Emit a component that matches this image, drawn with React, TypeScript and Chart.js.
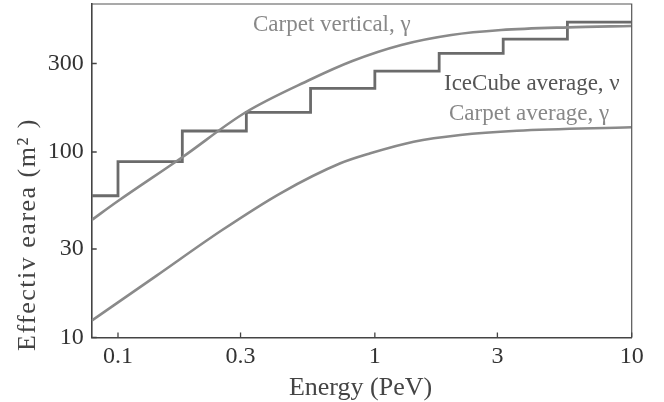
import React, { useEffect, useRef } from "react";
import { Chart, registerables } from "chart.js";

Chart.register(...registerables);

// ---- data ----
const energyTicks = [0.1, 0.3, 1, 3, 10];
const energyTickLabels = ["0.1", "0.3", "1", "3", "10"];
const areaTicks = [10, 30, 100, 300];
const areaTickLabels = ["10", "30", "100", "300"];

const carpetVerticalE = [0.079, 0.1, 0.1785, 0.311, 0.556, 0.8175, 1.268, 1.984, 3.103, 5.655, 10];
const carpetVerticalA = [43.0, 54.4, 94.0, 162.3, 244.4, 309.4, 377.5, 427.3, 454.6, 470.1, 477.8];

const carpetAverageE = [0.079, 0.1414, 0.2545, 0.4291, 0.7342, 0.9605, 1.416, 2.15, 3.572, 10];
const carpetAverageA = [12.32, 21.56, 37.97, 59.9, 86.9, 98.4, 113.6, 123.5, 130.2, 135.9];

const iceCubeE = [0.079, 0.1, 0.178, 0.316, 0.562, 1, 1.78, 3.16, 5.62, 10];
const iceCubeA = [58.1, 88.7, 129.8, 163.6, 220.5, 273, 340, 406, 502, 502];

const xTitle = "Energy (PeV)";
const yTitle = "Effectiv earea (m² )";
const labelVertical = "Carpet vertical, γ";
const labelIceCube = "IceCube average, ν";
const labelAverage = "Carpet average, γ";

const xMin = 0.079;
const xMax = 10;
const yMin = 10;
const yMax = 628;

const toPoints = (xs: number[], ys: number[]) => xs.map((x, i) => ({ x, y: ys[i] }));

const SERIF = "'Liberation Serif', 'Times New Roman', serif";

const decorPlugin = {
  id: "decor",
  afterDraw(chart: any) {
    const { ctx, chartArea, scales } = chart;
    const { left, right, top, bottom } = chartArea;
    const xs = scales.x;
    const ys = scales.y;
    ctx.save();
    // frame top & right
    ctx.strokeStyle = "#555";
    ctx.lineWidth = 1.2;
    ctx.beginPath();
    ctx.moveTo(left, top);
    ctx.lineTo(right, top);
    ctx.lineTo(right, bottom);
    ctx.stroke();
    // inner ticks
    ctx.strokeStyle = "#444";
    ctx.lineWidth = 1.3;
    ctx.beginPath();
    energyTicks.forEach((v) => {
      const px = xs.getPixelForValue(v);
      ctx.moveTo(px, bottom);
      ctx.lineTo(px, bottom - 5);
    });
    areaTicks.forEach((v) => {
      const py = ys.getPixelForValue(v);
      ctx.moveTo(left, py);
      ctx.lineTo(left + 5, py);
    });
    ctx.stroke();

    // series labels
    ctx.textBaseline = "alphabetic";
    ctx.textAlign = "left";
    ctx.font = `23px ${SERIF}`;
    ctx.fillStyle = "#888";
    ctx.fillText(labelVertical, 253, 31);
    ctx.fillStyle = "#555";
    ctx.fillText(labelIceCube, 444, 90);
    ctx.fillStyle = "#888";
    ctx.fillText(labelAverage, 449, 120);

    // axis titles
    ctx.fillStyle = "#444";
    ctx.font = `26px ${SERIF}`;
    ctx.textAlign = "center";
    ctx.fillText(xTitle, 360.5, 395);

    ctx.save();
    ctx.translate(35, 234.5);
    ctx.rotate(-Math.PI / 2);
    ctx.font = `26px ${SERIF}`;
    (ctx as any).letterSpacing = "1.5px";
    ctx.textAlign = "center";
    ctx.fillText(yTitle, 0, 0);
    ctx.restore();

    ctx.restore();
  },
};

const zeroPad = (s: any) => {
  s.paddingTop = 0;
  s.paddingBottom = 0;
  s.paddingLeft = 0;
  s.paddingRight = 0;
};

export default function App() {
  const ref = useRef<HTMLCanvasElement | null>(null);

  useEffect(() => {
    if (!ref.current) return;
    const chart = new Chart(ref.current, {
      type: "line",
      data: {
        datasets: [
          {
            label: labelAverage,
            data: toPoints(carpetAverageE, carpetAverageA),
            borderColor: "#8a8a8a",
            borderWidth: 2.6,
            pointRadius: 0,
            cubicInterpolationMode: "monotone",
          },
          {
            label: labelVertical,
            data: toPoints(carpetVerticalE, carpetVerticalA),
            borderColor: "#8a8a8a",
            borderWidth: 2.6,
            pointRadius: 0,
            cubicInterpolationMode: "monotone",
          },
          {
            label: labelIceCube,
            data: toPoints(iceCubeE, iceCubeA),
            borderColor: "#6b6b6b",
            borderWidth: 2.8,
            pointRadius: 0,
            stepped: "before",
            borderJoinStyle: "miter",
          },
        ],
      },
      options: {
        animation: false,
        responsive: false,
        devicePixelRatio: 1,
        events: [],
        layout: { padding: { top: 4, right: 32.3, left: 0, bottom: 0 } },
        plugins: { legend: { display: false }, tooltip: { enabled: false }, title: { display: false } },
        scales: {
          x: {
            type: "logarithmic",
            min: xMin,
            max: xMax,
            bounds: "data",
            afterBuildTicks: (s: any) => {
              s.ticks = energyTicks.map((v) => ({ value: v }));
            },
            afterFit: (s: any) => {
              s.height = 64.5;
              zeroPad(s);
            },
            ticks: {
              autoSkip: false,
              maxRotation: 0,
              padding: 5,
              color: "#333",
              font: { family: SERIF, size: 24 },
              callback: (v: any) => {
                const i = energyTicks.indexOf(Number(v));
                return i >= 0 ? energyTickLabels[i] : "";
              },
            },
            grid: { display: true, drawOnChartArea: false, drawTicks: false },
            border: { display: true, color: "#444", width: 1.6 },
          },
          y: {
            type: "logarithmic",
            min: yMin,
            max: yMax,
            bounds: "data",
            afterBuildTicks: (s: any) => {
              s.ticks = areaTicks.map((v) => ({ value: v }));
            },
            afterFit: (s: any) => {
              s.width = 91.7;
              zeroPad(s);
            },
            ticks: {
              autoSkip: false,
              padding: 8,
              color: "#333",
              font: { family: SERIF, size: 24 },
              callback: (v: any) => {
                const i = areaTicks.indexOf(Number(v));
                return i >= 0 ? areaTickLabels[i] : "";
              },
            },
            grid: { display: true, drawOnChartArea: false, drawTicks: false },
            border: { display: true, color: "#444", width: 1.6 },
          },
        },
      },
      plugins: [decorPlugin],
    } as any);
    return () => chart.destroy();
  }, []);

  return (
    <div style={{ position: "fixed", left: 0, top: 0, width: 664, height: 402, background: "#fff" }}>
      <canvas ref={ref} width={664} height={402} style={{ display: "block", width: 664, height: 402 }} />
    </div>
  );
}
